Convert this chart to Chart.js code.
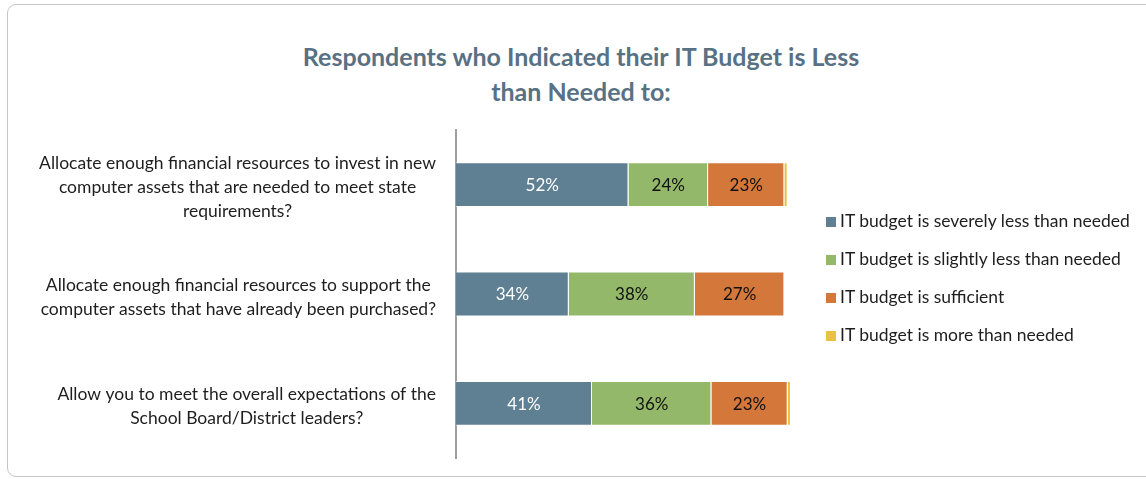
<!DOCTYPE html>
<html>
<head>
<meta charset="utf-8">
<title>IT Budget</title>
<script src="https://cdn.jsdelivr.net/npm/chart.js@4.4.1/dist/chart.umd.min.js"></script>
<style>
  body { margin: 0; background: #fff; font-family: Lato, sans-serif; }
  #cornice {
    position: absolute; left: 7px; top: 4px; width: 1160px; height: 471px;
    border: 1px solid #c6c6c6; border-radius: 9px;
  }
  #titolo {
    position: absolute; left: 0; top: 39px; width: 1162px;
    text-align: center; font-weight: bold; font-size: 25px; line-height: 35px; color: #587184;
  }
  #box_grafico { position: absolute; left: 0; top: 0; width: 1146px; height: 479px; }
  #legenda { position: absolute; left: 826px; top: 202px; }
  .voce { height: 38px; line-height: 38px; font-size: 17.5px; color: #1e1e1e; white-space: nowrap; }
  .quadrato { display: inline-block; width: 10px; height: 10px; margin-right: 4px; vertical-align: 0px; }
</style>
</head>
<body>
<div id="cornice"></div>
<div id="titolo">Respondents who Indicated their IT Budget is Less<br>than Needed to:</div>
<div id="box_grafico"><canvas id="grafico_budget"></canvas></div>
<div id="legenda"></div>

<script>
// domande (una riga per ogni riga di testo)
var domande = [
  ['Allocate enough financial resources to invest in new', 'computer assets that are needed to meet state', 'requirements?'],
  ['Allocate enough financial resources to support the', 'computer assets that have already been purchased?'],
  ['Allow you to meet the overall expectations of the', 'School Board/District leaders?']
];

var nomi_serie = [
  'IT budget is severely less than needed',
  'IT budget is slightly less than needed',
  'IT budget is sufficient',
  'IT budget is more than needed'
];

// percentuali per domanda
var severamente_meno = [52, 34, 41];
var leggermente_meno = [24, 38, 36];
var sufficiente = [23, 27, 23];
var piu_del_necessario = [1, 0, 1];

var colori = ['#5f7f93', '#94b86a', '#d4773b', '#e9c244'];
var colori_etichette = ['#ffffff', '#111111', '#111111', null];

var serie = [severamente_meno, leggermente_meno, sufficiente, piu_del_necessario];

// legenda in html
var legenda = document.getElementById('legenda');
for (var i = 0; i < nomi_serie.length; i++) {
  legenda.innerHTML += '<div class="voce"><span class="quadrato" style="background:' + colori[i] + '"></span>' + nomi_serie[i] + '</div>';
}

// scrive le domande a sinistra: blocco allineato a destra, righe centrate
var plugin_domande = {
  id: 'domande',
  afterDraw: function(chart) {
    var ctx = chart.ctx;
    var scala_y = chart.scales.y;
    var destra = chart.chartArea.left - 20;
    var interlinea = 24;
    ctx.save();
    ctx.font = '17.5px Lato';
    ctx.fillStyle = '#1e1e1e';
    ctx.textAlign = 'center';
    ctx.textBaseline = 'middle';
    for (var i = 0; i < domande.length; i++) {
      var righe = domande[i];
      var larghezza = 0;
      for (var r = 0; r < righe.length; r++) {
        larghezza = Math.max(larghezza, ctx.measureText(righe[r]).width);
      }
      var cx = destra - larghezza / 2;
      var y0 = scala_y.getPixelForValue(i) + 3 - (righe.length - 1) * interlinea / 2;
      for (var r = 0; r < righe.length; r++) {
        ctx.fillText(righe[r], cx, y0 + r * interlinea);
      }
    }
    ctx.restore();
  }
};

// percentuali dentro le barre
var plugin_valori = {
  id: 'valori',
  afterDatasetsDraw: function(chart) {
    var ctx = chart.ctx;
    ctx.save();
    ctx.font = '17px Lato';
    ctx.textAlign = 'center';
    ctx.textBaseline = 'middle';
    chart.data.datasets.forEach(function(ds, i) {
      if (!colori_etichette[i]) return;
      ctx.fillStyle = colori_etichette[i];
      chart.getDatasetMeta(i).data.forEach(function(barra, j) {
        var x = (barra.x + barra.base) / 2;
        ctx.fillText(ds.data[j] + '%', x, barra.y + 1);
      });
    });
    ctx.restore();
  }
};

var dataset = [];
for (var i = 0; i < serie.length; i++) {
  dataset.push({
    label: nomi_serie[i],
    data: serie[i],
    backgroundColor: colori[i],
    borderColor: 'rgba(255,255,255,0.7)',
    borderWidth: 1,
    barPercentage: 0.41,
    categoryPercentage: 1
  });
}

var grafico = new Chart(document.getElementById('grafico_budget'), {
  type: 'bar',
  data: {
    labels: domande,
    datasets: dataset
  },
  options: {
    indexAxis: 'y',
    responsive: true,
    maintainAspectRatio: false,
    animation: false,
    layout: {
      padding: { top: 130, bottom: 21, left: 0, right: 355 }
    },
    plugins: {
      legend: { display: false },
      title: { display: false },
      tooltip: { enabled: false }
    },
    scales: {
      x: {
        stacked: true,
        min: 0,
        max: 101,
        display: false
      },
      y: {
        stacked: true,
        grid: { display: false, drawTicks: false },
        border: { display: true, color: '#9e9e9e', width: 2 },
        ticks: { display: false },
        afterFit: function(scala) { scala.width = 456; }
      }
    }
  },
  plugins: [plugin_domande, plugin_valori]
});
</script>
</body>
</html>
